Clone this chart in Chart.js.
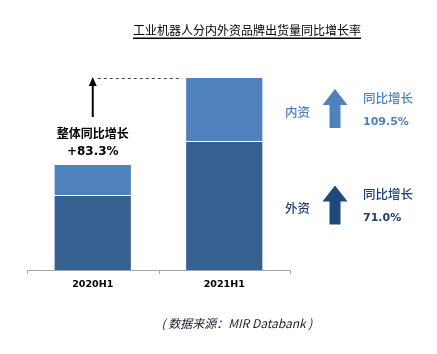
<!DOCTYPE html>
<html>
<head>
<meta charset="utf-8">
<script src="https://cdn.jsdelivr.net/npm/chart.js@4"></script>
<style>
  html, body { margin: 0; padding: 0; background: #fff; }
  #wrap { width: 437px; height: 354px; }
</style>
</head>
<body>
<div id="wrap"><canvas id="myChart" width="437" height="354"></canvas></div>
<script>
const categories = ['2020H1', '2021H1'];
const foreign = [7.5, 12.9];   // 外资
const domestic = [3.1, 6.4];   // 内资
const growthTotal = '+83.3%';
const growthDomestic = '109.5%';
const growthForeign = '71.0%';

const CJK = '"Noto Sans CJK SC", sans-serif';
const NUM = '"DejaVu Sans", sans-serif';

function upArrow(ctx, cx, tipY, headY, bottomY, headW, shaftW, color) {
    ctx.beginPath();
    ctx.moveTo(cx, tipY);
    ctx.lineTo(cx + headW / 2, headY);
    ctx.lineTo(cx + shaftW / 2, headY);
    ctx.lineTo(cx + shaftW / 2, bottomY);
    ctx.lineTo(cx - shaftW / 2, bottomY);
    ctx.lineTo(cx - shaftW / 2, headY);
    ctx.lineTo(cx - headW / 2, headY);
    ctx.closePath();
    ctx.fillStyle = color;
    ctx.fill();
}

const decor = {
    id: 'decor',
    afterDraw(chart) {
        const ctx = chart.ctx;
        const x = chart.scales.x, y = chart.scales.y;
        const area = chart.chartArea;
        ctx.save();

        // title
        const title = '工业机器人分内外资品牌出货量同比增长率';
        ctx.fillStyle = '#000';
        ctx.font = '12px ' + CJK;
        ctx.textAlign = 'center';
        ctx.textBaseline = 'middle';
        ctx.fillText(title, 247, 30);
        const tw = ctx.measureText(title).width;
        ctx.fillRect(247 - tw / 2, 37.5, tw, 1.5);

        // x axis
        ctx.strokeStyle = '#a6a6a6';
        ctx.lineWidth = 1;
        ctx.beginPath();
        ctx.moveTo(area.left, area.bottom + 0.5);
        ctx.lineTo(area.right, area.bottom + 0.5);
        const ticks = [area.left, (x.getPixelForValue(0) + x.getPixelForValue(1)) / 2, area.right];
        ticks.forEach(t => {
            ctx.moveTo(Math.round(t) + 0.5, area.bottom);
            ctx.lineTo(Math.round(t) + 0.5, area.bottom + 4);
        });
        ctx.stroke();

        ctx.fillStyle = '#000';
        ctx.font = 'bold 9.5px ' + NUM;
        categories.forEach((c, i) => ctx.fillText(c, x.getPixelForValue(i), area.bottom + 15));

        // total growth arrow + dashed line
        const cx0 = x.getPixelForValue(0);
        const topY = y.getPixelForValue(foreign[1] + domestic[1]);
        const meta = chart.getDatasetMeta(0).data[1];
        const bar2Left = meta.x - meta.width / 2;
        ctx.strokeStyle = '#000';
        ctx.lineWidth = 2;
        ctx.beginPath();
        ctx.moveTo(cx0, topY + 40);
        ctx.lineTo(cx0, topY + 7);
        ctx.stroke();
        ctx.beginPath();
        ctx.moveTo(cx0, topY);
        ctx.lineTo(cx0 + 4, topY + 9);
        ctx.lineTo(cx0 - 4, topY + 9);
        ctx.closePath();
        ctx.fillStyle = '#000';
        ctx.fill();
        ctx.strokeStyle = '#444';
        ctx.lineWidth = 1;
        ctx.setLineDash([3, 3]);
        ctx.beginPath();
        ctx.moveTo(cx0 + 5, topY + 1.5);
        ctx.lineTo(bar2Left - 3, topY + 1.5);
        ctx.stroke();
        ctx.setLineDash([]);

        ctx.fillStyle = '#000';
        ctx.font = 'bold 12px ' + CJK;
        ctx.fillText('整体同比增长', cx0, topY + 56);
        ctx.font = 'bold 12px ' + NUM;
        ctx.fillText(growthTotal, cx0, topY + 75);

        // right side annotations
        const lightMid = (y.getPixelForValue(foreign[1]) + y.getPixelForValue(foreign[1] + domestic[1])) / 2;
        const darkMid = (y.getPixelForValue(0) + y.getPixelForValue(foreign[1])) / 2;
        const rows = [
            { mid: lightMid, name: '内资', pct: growthDomestic, text: '#4F81BD', arrow: '#4F81BD' },
            { mid: darkMid, name: '外资', pct: growthForeign, text: '#1F3F6F', arrow: '#1F497D' }
        ];
        rows.forEach(r => {
            upArrow(ctx, 335, r.mid - 20, r.mid - 4, r.mid + 19, 25, 11, r.arrow);
            ctx.fillStyle = r.text;
            ctx.textAlign = 'left';
            ctx.font = '500 12.5px ' + CJK;
            ctx.fillText(r.name, 285, r.mid + 3);
            ctx.fillText('同比增长', 363, r.mid - 11);
            ctx.font = 'bold 11px ' + NUM;
            ctx.fillText(r.pct, 363, r.mid + 13);
        });

        // source
        ctx.fillStyle = '#1a1a2e';
        ctx.textAlign = 'center';
        ctx.font = 'italic 12px ' + CJK;
        ctx.fillText('( 数据来源：MIR Databank )', 237, 323);

        ctx.restore();
    }
};

new Chart(document.getElementById('myChart'), {
    type: 'bar',
    data: {
        labels: categories,
        datasets: [{
            label: '外资',
            data: foreign,
            backgroundColor: '#36608F',
            borderColor: 'rgba(255,255,255,0.85)',
            borderWidth: 1,
            barPercentage: 0.595,
            categoryPercentage: 1
        }, {
            label: '内资',
            data: domestic,
            backgroundColor: '#4F81BD',
            borderColor: 'rgba(255,255,255,0.85)',
            borderWidth: 1,
            barPercentage: 0.595,
            categoryPercentage: 1
        }]
    },
    options: {
        responsive: false,
        animation: false,
        layout: {
            padding: { left: 27, right: 147, top: 70, bottom: 84 }
        },
        plugins: {
            legend: { display: false },
            tooltip: { enabled: false }
        },
        scales: {
            x: { stacked: true, display: false },
            y: { stacked: true, display: false, min: 0, max: 20 }
        }
    },
    plugins: [decor]
});
</script>
</body>
</html>
